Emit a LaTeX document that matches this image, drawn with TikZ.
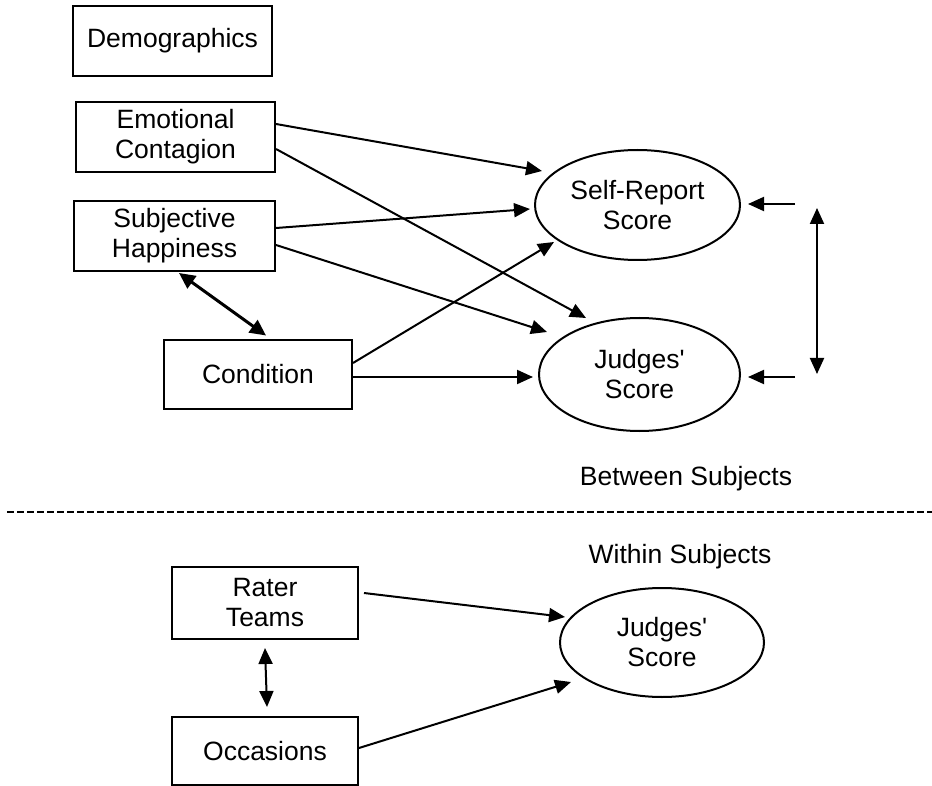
\documentclass[tikz,border=0pt]{standalone}
\usepackage{fontspec}
\setmainfont{Liberation Sans}[Ligatures=TeXOff]
\usetikzlibrary{arrows.meta,shapes.geometric,calc}
\begin{document}
\begin{tikzpicture}[x=1pt,y=-1pt,
  every node/.style={font=\fontsize{26.5}{30}\selectfont, align=center},
  box/.style={draw, line width=2pt, inner sep=0pt, rectangle},
  oval/.style={draw, line width=2pt, ellipse, inner sep=0pt},
  conn/.style={line width=2pt, -{Triangle[length=16pt,width=14pt]}},
  dconn/.style={line width=2pt, {Triangle[length=16pt,width=14pt]}-{Triangle[length=16pt,width=14pt]}},
  thickd/.style={line width=3pt, {Triangle[length=16pt,width=15pt]}-{Triangle[length=16pt,width=15pt]}},
  sep/.style={line width=2pt, dash pattern=on 7pt off 3pt},
]
\useasboundingbox (0,0) rectangle (932,786);

% boxes
\node[box, minimum width=199pt, minimum height=70pt] (demo) at (172.5,41) {Demographics};
\node[box, minimum width=199pt, minimum height=70pt] (ec) at (175.5,137) {Emotional\\Contagion};
\node[box, minimum width=201pt, minimum height=70pt] (sh) at (174.5,236) {Subjective\\Happiness};
\node[box, minimum width=188pt, minimum height=69pt] (cond) at (258,374.5) {Condition};
\node[box, minimum width=186pt, minimum height=72pt] (rater) at (265,603) {Rater\\Teams};
\node[box, minimum width=186pt, minimum height=68pt] (occ) at (265,751) {Occasions};

% ellipses
\node[oval, minimum width=205pt, minimum height=110pt] (sr) at (637.5,205) {Self-Report\\Score};
\node[oval, minimum width=201pt, minimum height=113pt] (js) at (639.5,374.5) {Judges'\\Score};
\node[oval, minimum width=204pt, minimum height=109pt] (js2) at (662,642.5) {Judges'\\Score};

% labels
\node (between) at (686,479) {Between Subjects};
\node (within) at (680,557) {Within Subjects};

% free-end coordinates
\coordinate (r1) at (795,204);
\coordinate (r2) at (795,377);
\coordinate (v1) at (817,208);
\coordinate (v2) at (817,374);
\coordinate (dl) at (7,512);
\coordinate (dr) at (932,512);

% between-subjects paths
\draw[conn] ($(ec.east)+(0,-13)$) -- ($(sr)+(-95.5,-34)$);
\draw[conn] ($(ec.east)+(0,12)$) -- ($(js)+(-53.5,-56.5)$);
\draw[conn] ($(sh.east)+(0,-8)$) -- ($(sr)+(-107.5,4)$);
\draw[conn] ($(sh.east)+(0,9)$) -- ($(js)+(-92.5,-42.5)$);
\draw[conn] ($(cond.east)+(0,-11.5)$) -- ($(sr)+(-83.5,37)$);
\draw[conn] ($(cond.east)+(0,2.5)$) -- ($(js)+(-106.5,2.5)$);
\draw[thickd] ($(sh.south)+(4.5,1)$) -- ($(cond.north)+(8,-3.5)$);

% residual arrows
\draw[conn] (r1) -- ($(sr)+(110.5,-1)$);
\draw[conn] (r2) -- ($(js)+(108.5,2.5)$);
\draw[dconn] (v1) -- (v2);

% separator
\draw[sep] (dl) -- (dr);

% within-subjects paths
\draw[conn] ($(rater.east)+(5,-10)$) -- ($(js2)+(-97,-25.5)$);
\draw[conn] ($(occ.east)+(0,-3)$) -- ($(js2)+(-91,39.5)$);
\draw[dconn] ($(rater.south)+(0,8)$) -- ($(occ.north)+(2,-9)$);
\end{tikzpicture}
\end{document}
